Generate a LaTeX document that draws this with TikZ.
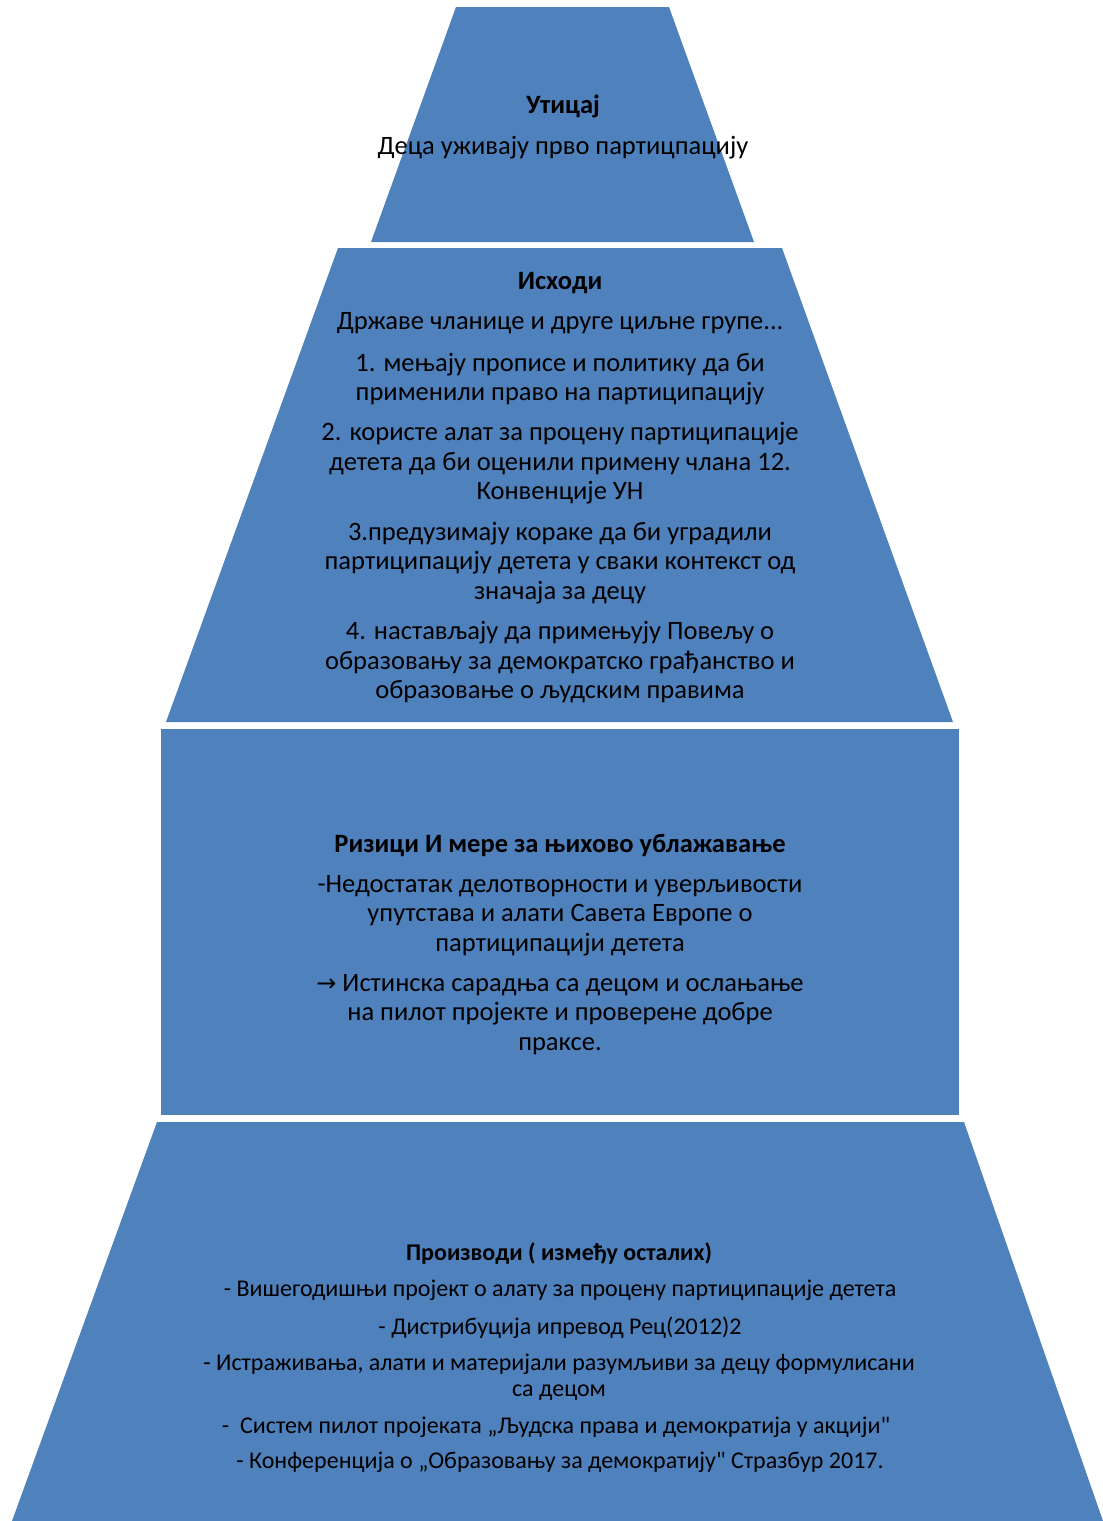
\documentclass[tikz,border=0pt]{standalone}
\usepackage{fontspec}
\setmainfont{Carlito}
\newfontfamily\lowfont[FakeStretch=1.0]{Carlito}
\newfontfamily\arrowfont{DejaVu Sans}
\definecolor{boxblue}{HTML}{4F81BD}
\tikzset{
  tier/.style={fill=boxblue},
  midtext/.style={align=center, inner sep=0pt, font=\fontsize{26.5}{29.5}\selectfont},
  headtext/.style={align=center, inner sep=0pt, font=\fontsize{26.5}{29.5}\selectfont\bfseries},
  lowtext/.style={align=center, inner sep=0pt, font=\lowfont\fontsize{24}{26}\selectfont},
  lowhead/.style={align=center, inner sep=0pt, font=\lowfont\fontsize{24}{26}\selectfont\bfseries}
}
\begin{document}
\begin{tikzpicture}[x=1pt,y=-1pt]
\useasboundingbox[fill=white] (0,0) rectangle (1103,1521);
% tiers
\fill[tier] (456,7) -- (669,7) -- (754,242) -- (371,242) -- cycle;
\fill[tier] (338,248) -- (782,248) -- (953,722) -- (166,722) -- cycle;
\fill[tier] (161,729) rectangle (959,1115);
\fill[tier] (157,1122) -- (964,1122) -- (1103,1521) -- (12,1521) -- cycle;
% top tier
\node[headtext] (h1) at (563,106) {Утицај};
\node[midtext] (t1) at (563,147.5) {Деца уживају прво партицпацију};
% second tier
\node[headtext] (h2) at (560,283) {Исходи};
\node[midtext] (p0) at (560,323.5) {Државе чланице и друге циљне групе...};
\node[midtext] (p1) at (560,379) {1. мењају прописе и политику да би\\применили право на партиципацију};
\node[midtext] (p2) at (560,463.5) {2. користе алат за процену партиципације\\детета да би оценили примену члана 12.\\Конвенције УН};
\node[midtext] (p3) at (560,563) {3.предузимају кораке да би уградили\\партиципацију детета у сваки контекст од\\значаја за децу};
\node[midtext] (p4) at (560,662.5) {4. настављају да примењују Повељу о\\образовању за демократско грађанство и\\образовање о људским правима};
% third tier
\node[headtext] (h3) at (560,845) {Ризици И мере за њихово ублажавање};
\node[midtext] (r1) at (560,915.5) {-Недостатак делотворности и уверљивости\\упутстава и алати Савета Европе о\\партиципацији детета};
\node[midtext] (r2) at (560,1014.5) {{\arrowfont\fontsize{24}{29.5}\selectfont →} Истинска сарадња са децом и ослањање\\на пилот пројекте и проверене добре\\праксе.};
% bottom tier
\node[lowhead] (h4) at (559,1254) {Производи ( између осталих)};
\node[lowtext] (b1) at (560,1290.5) {- Вишегодишњи пројект о алату за процену партиципације детета};
\node[lowtext] (b2) at (560,1327.5) {- Дистрибуција ипревод Рец(2012)2};
\node[lowtext] (b3) at (559,1377.5) {- Истраживања, алати и материјали разумљиви за децу формулисани\\са децом};
\node[lowtext] (b4) at (556,1427.5) {-\ \ Систем пилот пројеката „Људска права и демократија у акцији"};
\node[lowtext] (b5) at (560,1462.5) {- Конференција о „Образовању за демократију" Стразбур 2017.};
\end{tikzpicture}
\end{document}
